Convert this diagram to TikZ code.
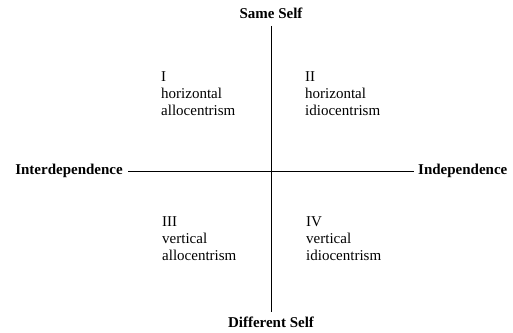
\documentclass[tikz,border=0pt]{standalone}
\usepackage{fontspec}
\setmainfont{Liberation Serif}
\usetikzlibrary{positioning}

\begin{document}
\begin{tikzpicture}[
        x=1pt, y=1pt,
        axislabel/.style={
          font=\fontsize{15}{17}\selectfont\bfseries,
          inner sep=0pt
        },
        quadrant/.style={
          align=left,
          anchor=base west,
          inner sep=0pt,
          font=\fontsize{15}{17}\selectfont
        },
        axis/.style={
          semithick
        }
      ]

      \useasboundingbox (0,0) rectangle (513,332);

      \coordinate (top) at (271,306);
      \coordinate (bottom) at (271,20);
      \coordinate (left) at (128,161);
      \coordinate (right) at (414,161);

      \node[axislabel, above=7pt of top] (same) {Same Self};

      \node[axislabel, below=5pt of bottom] (different) {Different Self};

      \node[axislabel, left=5pt of left] (inter) {Interdependence};

      \node[axislabel, right=4pt of right] (indep) {Independence};

      \node[quadrant] (q1) at (161,216) {I\\horizontal\\allocentrism};

      \node[quadrant] (q2) at (305,216) {II\\horizontal\\idiocentrism};

      \node[quadrant] (q3) at (162,72) {III\\vertical\\allocentrism};

      \node[quadrant] (q4) at (306,72) {IV\\vertical\\idiocentrism};

      \draw[axis] (top) -- (bottom);
      \draw[axis] (left) -- (right);

      \end{tikzpicture}
\end{document}
